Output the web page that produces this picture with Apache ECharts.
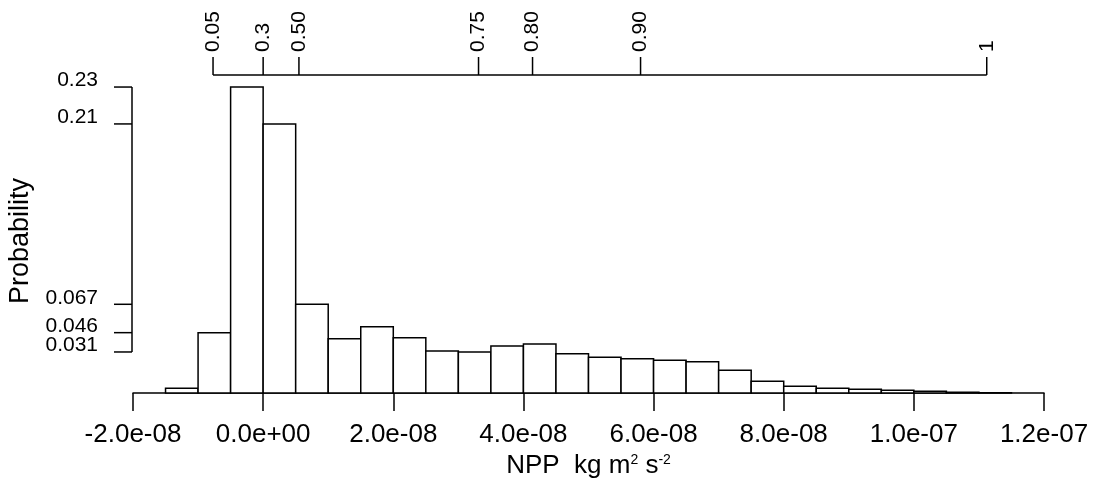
<!DOCTYPE html>
<html>
<head>
<meta charset="utf-8">
<script src="https://cdn.jsdelivr.net/npm/echarts@6/dist/echarts.min.js"></script>
<style>
  html, body { margin: 0; padding: 0; background: #fff; }
  #chart { width: 1101px; height: 490px; }
</style>
</head>
<body>
<div id="chart"></div>
<script>
// histogram bins: left edge of first bin + width, probabilities per bin
const binStart = -1.5e-8;
const binWidth = 5e-9;
const binProb = [
  0.0035, 0.0453, 0.2297, 0.202, 0.0666, 0.0408, 0.0498, 0.0415, 0.0315,
  0.0308, 0.0353, 0.0368, 0.0295, 0.0268, 0.0258, 0.0245, 0.0235, 0.0170,
  0.0088, 0.0050, 0.0035, 0.0028, 0.0020, 0.0013, 0.0005, 0.0002
];

// bottom axis
const xMin = -2e-8, xMax = 1.2e-7, xStep = 2e-8;
const xTickLabels = ['-2.0e-08', '0.0e+00', '2.0e-08', '4.0e-08', '6.0e-08', '8.0e-08', '1.0e-07', '1.2e-07'];

// left axis (ticks sit on bar heights)
const yTickValues = [0.0308, 0.0453, 0.0666, 0.202, 0.2297];
const yTickLabels = ['0.031', '0.046', '0.067', '0.21', '0.23'];

// top quantile axis
const quantX = [-7.7e-9, 0, 5.5e-9, 33.1e-9, 41.4e-9, 58.0e-9, 111.2e-9];
const quantLabels = ['0.05', '0.3', '0.50', '0.75', '0.80', '0.90', '1'];

const FONT = '"Liberation Sans", Arial, Helvetica, sans-serif';
const INK = '#000';

const bins = binProb.map((p, i) => [binStart + i * binWidth, binStart + (i + 1) * binWidth, p]);

const chart = echarts.init(document.getElementById('chart'));

const option = {
  backgroundColor: '#fff',
  animation: false,
  grid: { left: 133, right: 57, top: 60, bottom: 97 },
  xAxis: {
    type: 'value',
    min: xMin, max: xMax, interval: xStep,
    offset: 6,
    splitLine: { show: false },
    axisLine: { show: true, lineStyle: { color: INK, width: 1.5 } },
    axisTick: { show: true, length: 18, lineStyle: { color: INK, width: 1.5 } },
    axisLabel: {
      margin: 23, color: INK, fontFamily: FONT, fontSize: 26,
      formatter: v => xTickLabels[Math.round((v - xMin) / xStep)]
    },
    name: 'NPP  kg m{sup|2} s{sup|-2}',
    nameLocation: 'middle',
    nameGap: 49,
    nameTextStyle: {
      color: INK, fontFamily: FONT, fontSize: 26,
      rich: { sup: { fontSize: 14, verticalAlign: 'top', color: INK, fontFamily: FONT } }
    }
  },
  yAxis: {
    type: 'value',
    min: 0, max: 0.25,
    show: false
  },
  graphic: [{
    type: 'text',
    x: 21, y: 241,
    rotation: Math.PI / 2,
    style: { text: 'Probability', font: '27px ' + FONT, fill: INK, align: 'center', verticalAlign: 'middle' }
  }],
  series: [
    {
      // histogram bars
      type: 'custom',
      data: bins,
      encode: { x: [0, 1], y: 2 },
      renderItem: (params, api) => {
        const p0 = api.coord([api.value(0), api.value(2)]);
        const p1 = api.coord([api.value(1), 0]);
        return {
          type: 'rect',
          shape: { x: p0[0], y: p0[1], width: p1[0] - p0[0], height: p1[1] - p0[1] },
          style: { fill: '#fff', stroke: INK, lineWidth: 1.5 }
        };
      }
    },
    {
      // left axis: ticks at bar heights, line between outer ticks
      type: 'custom',
      clip: false,
      data: yTickValues.map((v, i) => [xMin, v, i]),
      encode: { x: 0, y: 1 },
      renderItem: (params, api) => {
        const axisX = params.coordSys.x - 1;
        const y = api.coord([xMin, api.value(1)])[1];
        const i = params.dataIndex;
        const children = [
          { type: 'line', shape: { x1: axisX - 18, y1: y, x2: axisX, y2: y }, style: { stroke: INK, lineWidth: 1.5 } },
          {
            type: 'text', x: axisX - 34, y: y + 4,
            style: { text: yTickLabels[i], font: '21px ' + FONT, fill: INK, align: 'right', verticalAlign: 'bottom' }
          }
        ];
        if (i === 0) {
          const yTop = api.coord([xMin, Math.max(...yTickValues)])[1];
          children.push({ type: 'line', shape: { x1: axisX, y1: y, x2: axisX, y2: yTop }, style: { stroke: INK, lineWidth: 1.5 } });
        }
        return { type: 'group', children };
      }
    },
    {
      // quantile axis at top
      type: 'custom',
      clip: false,
      data: quantX.map((x, i) => [x, i]),
      encode: { x: 0 },
      renderItem: (params, api) => {
        const axisY = params.coordSys.y + 15;
        const x = api.coord([api.value(0), 0])[0];
        const i = params.dataIndex;
        const children = [
          { type: 'line', shape: { x1: x, y1: axisY, x2: x, y2: axisY - 18 }, style: { stroke: INK, lineWidth: 1.5 } },
          {
            type: 'text', x: x, y: axisY - 23, rotation: Math.PI / 2,
            style: { text: quantLabels[i], font: '21px ' + FONT, fill: INK, align: 'left', verticalAlign: 'middle' }
          }
        ];
        if (i === 0) {
          const xEnd = api.coord([quantX[quantX.length - 1], 0])[0];
          children.push({ type: 'line', shape: { x1: x, y1: axisY, x2: xEnd, y2: axisY }, style: { stroke: INK, lineWidth: 1.5 } });
        }
        return { type: 'group', children };
      }
    }
  ]
};

chart.setOption(option);
</script>
</body>
</html>
